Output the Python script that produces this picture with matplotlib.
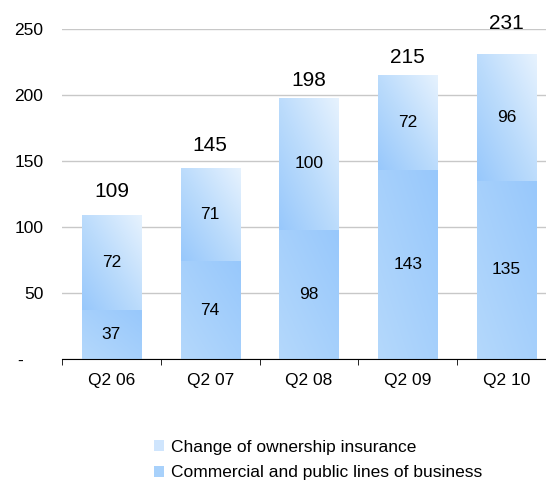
import numpy as np
import matplotlib
matplotlib.use("Agg")
import matplotlib.pyplot as plt
from matplotlib.colors import LinearSegmentedColormap
from matplotlib.patches import Rectangle, Patch

quarters = ["Q2 06", "Q2 07", "Q2 08", "Q2 09", "Q2 10"]
commercial = [37, 74, 98, 143, 135]
ownership = [72, 71, 100, 72, 96]
totals = [109, 145, 198, 215, 231]
yticks = [0, 50, 100, 150, 200, 250]
ytick_labels = ["-    ", "50", "100", "150", "200", "250"]
legend_labels = ["Change of ownership insurance", "Commercial and public lines of business"]

# total labels sit at slightly different heights above each bar (points)
total_offsets = [17, 16, 12, 13, 22]

plt.rcParams['font.family'] = ['Liberation Sans', 'DejaVu Sans']

# gradients: bottom-left -> top-right
cm_bottom = LinearSegmentedColormap.from_list("bot", ["#b4d8fc", "#98c8fb"])
cm_top = LinearSegmentedColormap.from_list("top", ["#98c8fb", "#bcdcfc", "#e6f2fe"])

fig = plt.figure(figsize=(5.46, 4.82), dpi=100)
ax = fig.add_axes([62 / 546, 123 / 482, 484 / 546, 330 / 482])

width = 0.6
n = 40
u, v = np.meshgrid(np.linspace(0, 1, n), np.linspace(0, 1, n))
grad = (u + v) / 2


def grad_bar(x, y0, h, cmap):
    rect = Rectangle((x - width / 2, y0), width, h, facecolor="none", edgecolor="none")
    ax.add_patch(rect)
    im = ax.imshow(grad, cmap=cmap, origin="lower", aspect="auto", interpolation="bilinear",
                   extent=(x - width / 2, x + width / 2, y0, y0 + h), zorder=2)
    im.set_clip_path(rect)


for i in range(len(quarters)):
    grad_bar(i, 0, commercial[i], cm_bottom)
    grad_bar(i, commercial[i], ownership[i], cm_top)
    ax.text(i, commercial[i] / 2, str(commercial[i]), ha="center", va="center", fontsize=12.5, zorder=3)
    ax.text(i, commercial[i] + ownership[i] / 2, str(ownership[i]), ha="center", va="center",
            fontsize=12.5, zorder=3)
    ax.annotate(str(totals[i]), (i, totals[i]), xytext=(0, total_offsets[i]), textcoords="offset points",
                ha="center", va="center", fontsize=15, zorder=3)

ax.set_xlim(-0.5, 4.4)
ax.set_ylim(0, 250)
ax.set_yticks(yticks)
ax.set_yticklabels(ytick_labels, fontsize=12.5)
ax.set_xticks(range(len(quarters)))
ax.set_xticklabels(quarters, fontsize=12.5)
ax.set_xticks([-0.5, 0.5, 1.5, 2.5, 3.5], minor=True)
ax.tick_params(axis="x", which="major", length=0, pad=10)
ax.tick_params(axis="x", which="minor", length=4, direction="out", color="black")
ax.tick_params(axis="y", length=0, pad=13.5)
ax.grid(axis="y", color="#c8c8c8", linewidth=1, zorder=0)
ax.set_axisbelow(True)
for s in ["top", "right", "left"]:
    ax.spines[s].set_visible(False)
ax.spines["bottom"].set_color("black")
ax.spines["bottom"].set_zorder(4)

handles = [Patch(facecolor="#cfe5fd", edgecolor="none"), Patch(facecolor="#a8d1fb", edgecolor="none")]
fig.legend(handles, legend_labels, loc="upper left", bbox_to_anchor=(145 / 546, 1 - 431 / 482),
           frameon=False, fontsize=12.5, handlelength=0.6, handleheight=0.6, handletextpad=0.4,
           labelspacing=0.62, borderpad=0)

fig.savefig("out.png", dpi=100)
